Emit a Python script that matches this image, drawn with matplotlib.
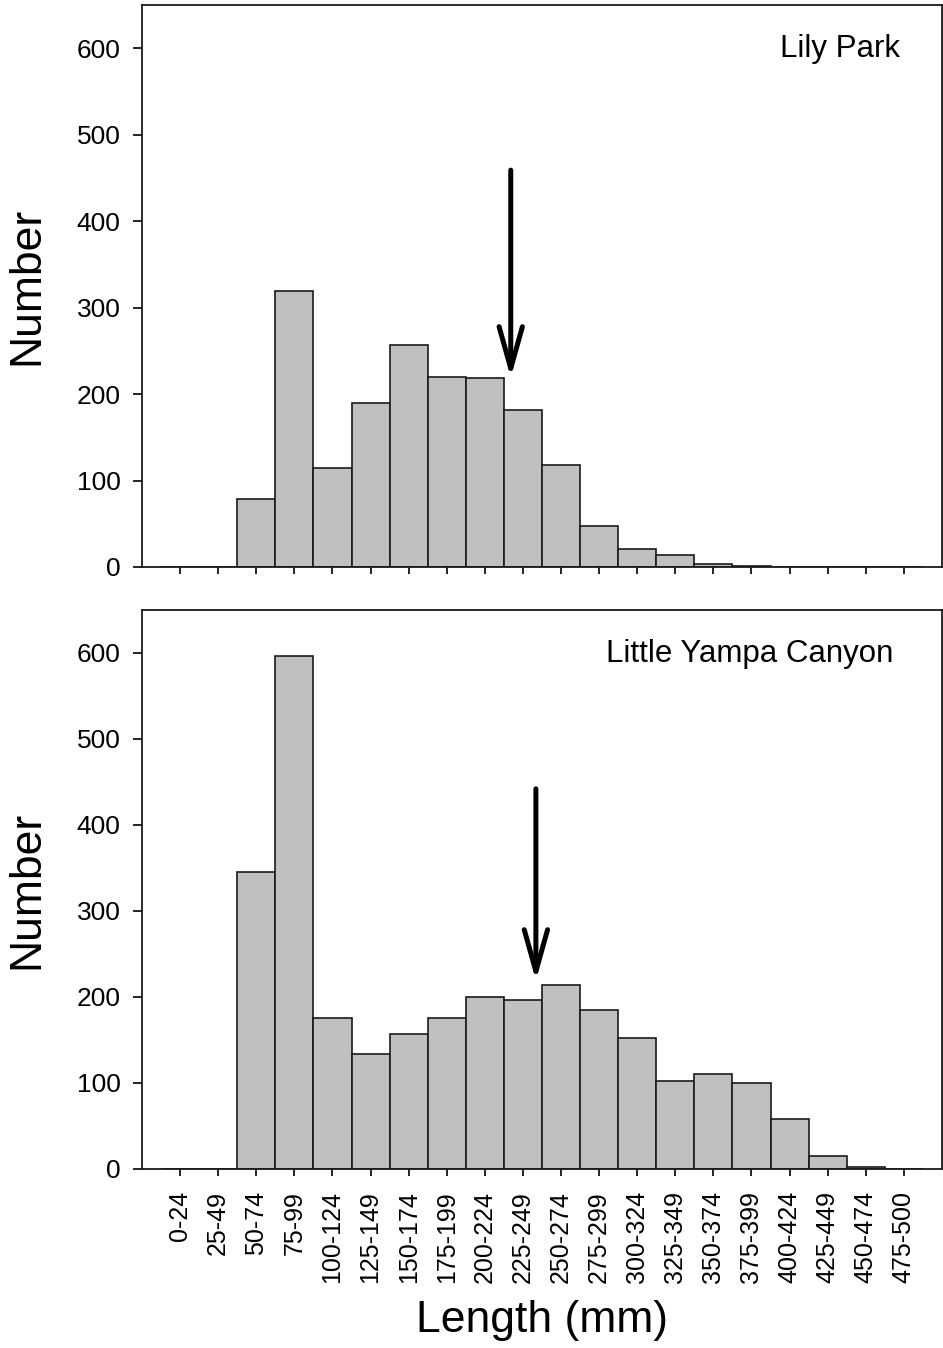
import matplotlib
matplotlib.use("Agg")
import matplotlib.pyplot as plt
import numpy as np

plt.rcParams['font.family'] = ['Liberation Sans', 'DejaVu Sans']

categories = ["0-24", "25-49", "50-74", "75-99", "100-124", "125-149", "150-174",
              "175-199", "200-224", "225-249", "250-274", "275-299", "300-324",
              "325-349", "350-374", "375-399", "400-424", "425-449", "450-474", "475-500"]

lily_park = [0, 0, 79, 319, 115, 190, 257, 220, 219, 182, 118, 47, 21, 14, 4, 1, 0, 0, 0, 0]
little_yampa = [0, 0, 345, 596, 175, 134, 157, 175, 200, 197, 214, 185, 152, 102, 110, 100, 58, 15, 2, 0]

panel_names = ["Lily Park", "Little Yampa Canyon"]
# arrow position (category index units) and start/end values
arrow_x = [8.68, 9.34]
arrow_start = [459, 442]
arrow_end = [219, 219]

yticks = [0, 100, 200, 300, 400, 500, 600]

fig = plt.figure(figsize=(9.43, 13.48), dpi=100)
ax1 = fig.add_axes([0.1506, 0.5794, 0.8483, 0.4169])
ax2 = fig.add_axes([0.1506, 0.1328, 0.8483, 0.4147])

label_pos = [(0.9475, 0.922), (0.939, 0.921)]

x = np.arange(len(categories))
for i, (ax, vals) in enumerate(zip([ax1, ax2], [lily_park, little_yampa])):
    ax.bar(x, vals, width=1.0, color="#c0c0c0", edgecolor="#1a1a1a", linewidth=1.2, zorder=2)
    ax.set_xlim(-1, 20)
    ax.set_ylim(0, 650)
    ax.set_yticks(yticks)
    ax.set_yticklabels([str(t) for t in yticks], fontsize=19)
    ax.set_xticks(x)
    ax.tick_params(axis='y', direction='out', length=6.5, width=1.2, pad=9)
    ax.tick_params(axis='x', direction='out', length=5, width=1.2, pad=11)
    for s in ax.spines.values():
        s.set_linewidth(1.3)
        s.set_color("#1a1a1a")
    ax.set_ylabel("Number", fontsize=32, labelpad=21)
    ax.text(label_pos[i][0], label_pos[i][1], panel_names[i], transform=ax.transAxes,
            ha='right', va='center', fontsize=22.5)
    ax.annotate("", xy=(arrow_x[i], arrow_end[i]), xytext=(arrow_x[i], arrow_start[i]),
                arrowprops=dict(arrowstyle="->,head_length=1.5,head_width=0.42",
                                mutation_scale=20, lw=3.6, color="black",
                                shrinkA=0, shrinkB=0, capstyle='round'),
                zorder=5)

ax1.set_xticklabels([])
ax2.set_xticklabels(categories, rotation=90, fontsize=18)
ax2.set_xlabel("Length (mm)", fontsize=32, labelpad=12)

fig.savefig("out.png", dpi=100)
